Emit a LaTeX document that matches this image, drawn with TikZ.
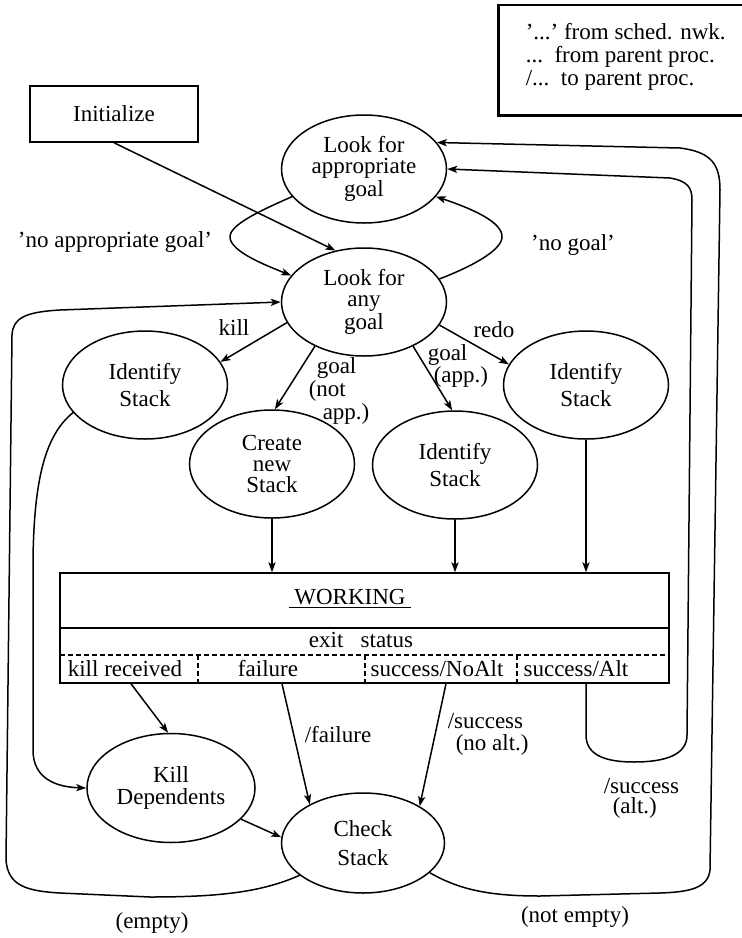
\documentclass[tikz,border=0pt]{standalone}
\usepackage{fontspec}
\setmainfont{Liberation Serif}
\usetikzlibrary{shapes.geometric,arrows.meta}

\begin{document}
\begin{tikzpicture}[x=0.5pt,y=0.5pt,yscale=-1,xscale=1,line width=0.75pt,
  every node/.style={font=\fontsize{11.5}{10.3}\selectfont},
  state/.style={draw,ellipse,inner sep=0pt,align=center,minimum width=82.5pt,minimum height=54pt},
  cell/.style={inner sep=0pt,minimum height=14pt},
  lbl/.style={inner sep=0.75pt},
  stack/.style={inner sep=0pt,anchor=west,align=left},
  arr/.style={-{Stealth[length=5pt,width=3.6pt,inset=1.2pt]}},
  sep/.style={dash pattern={on 2.5pt off 1.5pt},line width=0.6pt}]
\useasboundingbox (0,0) rectangle (742,938);

%Shape: Rectangle
\node[draw,rectangle,minimum width=84pt,minimum height=28pt] (init) at (114,114) {Initialize};
%Shape: Legend box
\node[draw,anchor=north west,minimum width=123.5pt,minimum height=55pt] (legend) at (498,4) {};
\draw[line width=1.3pt] (legend.north west) -- (legend.south west) -- (legend.south east);
\node[stack,font=\fontsize{11.5}{11.5}\selectfont] (legtxt) at (525,57) {'...'\ from sched. nwk.\\...\ \ from parent proc.\\/...\ \ to parent proc.};

%Shape: Ellipse
\node[state] (lfa) at (364,169) {Look for\\appropriate\\goal};
\node[state] (lfany) at (364,302) {Look for\\any\\goal};
\node[state] (idk) at (145,385) {Identify\\[2.2pt]Stack};
\node[state] (cns) at (272,464) {Create\\new\\Stack};
\node[state] (ida) at (455,465) {Identify\\[2.2pt]Stack};
\node[state] (idr) at (586,385) {Identify\\[2.2pt]Stack};
\node[state,minimum width=84pt,minimum height=54.5pt] (kd) at (171,788) {Kill\\[0.7pt]Dependents};
\node[state,minimum width=81.5pt,minimum height=50pt] (cs) at (363,843) {Check\\[4.2pt]Stack};

%Shape: WORKING box
\node[draw,rectangle,inner sep=0pt,minimum width=304.5pt,minimum height=55pt] (work) at (364.5,628) {};
\draw (60,628) -- (669,628);
\draw[sep] (60,655) -- (669,655);
\foreach \x in {198,365,517} {
  \draw[sep] (\x,655) -- (\x,683);
}
% Text Node
\node (wtxt) at (350,599) {\underline{\ WORKING\ }};
\node (exs) at (361,640) {exit\ \ \ status};
\node[cell] (kr) at (125,669) {kill received};
\node[cell] (fl) at (268,669) {failure};
\node[cell] (sn) at (437,669) {success/NoAlt};
\node[cell] (sa) at (576,669) {success/Alt};

%Straight Lines
\draw[arr] (init.south) -- (lfany.119);
\draw[arr] (lfany.195) -- (idk.17);
\draw[arr] (lfany.343) -- (idr.165);
\draw[arr] (lfany.222) -- (cns.87);
\draw[arr] (lfany.318) -- (ida.93);
\draw[arr] (cns.south) -- (cns.south |- work.north);
\draw[arr] (ida.south) -- (ida.south |- work.north);
\draw[arr] (idr.south) -- (idr.south |- work.north);
\draw[arr] ([xshift=3pt]kr.south) -- (kd.93);
\draw[arr] ([xshift=7pt]fl.south) -- (cs.144);
\draw[arr] ([xshift=4.5pt]sn.south) -- (cs.33);
\draw[arr] (kd.336) -- (cs.176);

%Curve Lines
\draw[arr] (lfa.201) .. controls (262,210) and (228,225) .. (230,238) .. controls (232,252) and (265,265) .. (lfany.160);
\draw[arr] (lfany.17) .. controls (468,268) and (500,252) .. (502,238) .. controls (504,222) and (470,208) .. (lfa.339);
\draw[arr] (idk.201) .. controls (45,435) and (34,480) .. (33,560) -- (33,750) .. controls (33,778) and (55,787) .. (kd.west);
% (empty)
\draw[arr] (cs.207) .. controls (262,892) and (220,897) .. (150,897) -- (60,893) .. controls (25,891) and (8,885) .. (6,860) -- (12,335) .. controls (13,318) and (25,312) .. (60,310) -- (lfany.west);
% (not empty)
\draw[arr] (cs.336) .. controls (460,890) and (490,896) .. (540,896) -- (660,893) .. controls (690,892) and (708,888) .. (710,870) -- (720,190) .. controls (720,165) and (712,152) .. (680,148) -- (lfa.20);
% /success (alt.)
\draw[arr] ([xshift=5pt]sa.south) -- (586,735) .. controls (586,755) and (605,762) .. (634,762) .. controls (665,762) and (687,755) .. (687,735) -- (692,200) .. controls (692,188) and (688,181) .. (670,178) -- (lfa.0);

% Text Node
\node[lbl] (noapp) at (115,242) {'no appropriate goal'};
\node[lbl] (nogoal) at (573,245) {'no goal'};
\node[lbl] (kill) at (234,328) {kill};
\node[lbl] (redo) at (494,330) {redo};
\node[stack,font=\fontsize{11.5}{8}\selectfont] (gna) at (308,391) {\hspace{4pt}goal\\(not\\\hspace{7pt}app.)};
\node[stack,font=\fontsize{11.5}{11}\selectfont] (ga) at (427,366) {goal\\\hspace{3pt}(app.)};
\node[lbl] (fail) at (338,735) {/failure};
\node[stack,font=\fontsize{11.5}{11}\selectfont] (sna) at (447,734) {/success\\\hspace{4pt}(no alt.)};
\node[stack,font=\fontsize{11.5}{10}\selectfont] (salt) at (603,798) {/success\\\hspace{4.5pt}(alt.)};
\node[lbl] (empty) at (152,923) {(empty)};
\node[lbl] (notempty) at (575,917) {(not empty)};

\end{tikzpicture}
\end{document}
